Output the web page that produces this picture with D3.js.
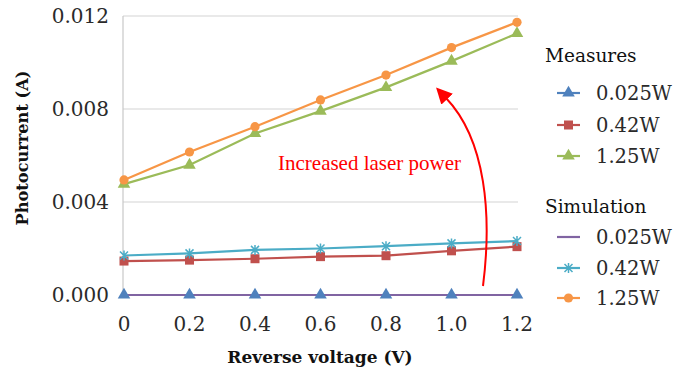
<!DOCTYPE html>
<html>
<head>
<meta charset="utf-8">
<script src="https://cdn.jsdelivr.net/npm/d3@7"></script>
<style>
  body { margin: 0; background: #fff; }
</style>
</head>
<body>
<div id="chart"></div>
<script>
// Data
const voltages = ["0", "0.2", "0.4", "0.6", "0.8", "1.0", "1.2"];
const yTicks = [0, 0.004, 0.008, 0.012];
const yTickLabels = ["0.000", "0.004", "0.008", "0.012"];

const meas025 = [0, 0, 0, 0, 0, 0, 0];
const meas042 = [0.00146, 0.0015, 0.00156, 0.00165, 0.00169, 0.0019, 0.00208];
const meas125 = [0.00477, 0.00559, 0.00695, 0.00791, 0.00893, 0.01006, 0.01125];
const sim025 = [0, 0, 0, 0, 0, 0, 0];
const sim042 = [0.0017, 0.00179, 0.00194, 0.002, 0.0021, 0.00222, 0.00232];
const sim125 = [0.00495, 0.00615, 0.00724, 0.00839, 0.00946, 0.01064, 0.01173];

const series = [
  { name: "0.025W", values: meas025, color: "#4F81BD", marker: "triangle" },
  { name: "0.42W", values: meas042, color: "#C0504D", marker: "square" },
  { name: "1.25W", values: meas125, color: "#9BBB59", marker: "triangle" },
  { name: "0.025W", values: sim025, color: "#8064A2", marker: "none" },
  { name: "0.42W", values: sim042, color: "#4BACC6", marker: "star" },
  { name: "1.25W", values: sim125, color: "#F79646", marker: "circle" }
];

const W = 675, H = 373;
const margin = { top: 16, left: 123, right: 518, bottom: 295 };
const serif = "'DejaVu Serif', serif";
const times = "'Liberation Serif', serif";

const svg = d3.select("#chart").append("svg")
    .attr("width", W)
    .attr("height", H);

const x = d3.scalePoint()
    .domain(voltages)
    .range([124, 517]);

const y = d3.scaleLinear()
    .domain([0, 0.012])
    .range([margin.bottom, margin.top]);

// Gridlines
svg.append("g")
  .selectAll("line")
  .data(yTicks.slice(1))
  .enter().append("line")
    .attr("x1", margin.left)
    .attr("x2", margin.right)
    .attr("y1", d => y(d))
    .attr("y2", d => y(d))
    .attr("stroke", "#d4d4d4")
    .attr("stroke-width", 1.2);

// Axis lines
svg.append("line")
    .attr("x1", margin.left).attr("x2", margin.left)
    .attr("y1", margin.top).attr("y2", margin.bottom)
    .attr("stroke", "#c8c8c8").attr("stroke-width", 1.2);
svg.append("line")
    .attr("x1", margin.left).attr("x2", margin.right)
    .attr("y1", margin.bottom).attr("y2", margin.bottom)
    .attr("stroke", "#c8c8c8").attr("stroke-width", 1.2);

// Y tick labels
svg.append("g")
  .selectAll("text")
  .data(yTicks)
  .enter().append("text")
    .attr("x", 109)
    .attr("y", d => y(d))
    .attr("dy", "0.36em")
    .attr("text-anchor", "end")
    .attr("font-family", serif)
    .attr("font-size", "20px")
    .attr("fill", "#2a2a2a")
    .text((d, i) => yTickLabels[i]);

// X tick labels
svg.append("g")
  .selectAll("text")
  .data(voltages)
  .enter().append("text")
    .attr("x", d => x(d))
    .attr("y", 324)
    .attr("dy", "0.36em")
    .attr("text-anchor", "middle")
    .attr("font-family", serif)
    .attr("font-size", "20px")
    .attr("fill", "#2a2a2a")
    .text(d => d);

// Axis titles
svg.append("text")
    .attr("x", 320)
    .attr("y", 357)
    .attr("dy", "0.36em")
    .attr("text-anchor", "middle")
    .attr("font-family", serif)
    .attr("font-size", "17px")
    .attr("font-weight", "bold")
    .attr("fill", "#111")
    .text("Reverse voltage (V)");

svg.append("text")
    .attr("transform", "translate(22,148) rotate(-90)")
    .attr("dy", "0.36em")
    .attr("text-anchor", "middle")
    .attr("font-family", serif)
    .attr("font-size", "16.2px")
    .attr("font-weight", "bold")
    .attr("fill", "#111")
    .text("Photocurrent (A)");

// Lines
const line = d3.line()
    .x((d, i) => x(voltages[i]))
    .y(d => y(d));

svg.append("g")
  .selectAll("path")
  .data(series)
  .enter().append("path")
    .attr("fill", "none")
    .attr("stroke", d => d.color)
    .attr("stroke-width", 2.2)
    .attr("d", d => line(d.values));

function drawMarker(g, type, color) {
  if (type === "triangle") {
    g.append("path").attr("d", d3.symbol(d3.symbolTriangle, 68)()).attr("fill", color);
  } else if (type === "square") {
    g.append("rect").attr("x", -4.5).attr("y", -4.5).attr("width", 9).attr("height", 9).attr("fill", color);
  } else if (type === "circle") {
    g.append("circle").attr("r", 4.6).attr("fill", color);
  } else if (type === "star") {
    g.append("path")
        .attr("d", "M-4,-4L4,4M-4,4L4,-4M0,-5L0,5")
        .attr("stroke", color).attr("stroke-width", 1.5).attr("fill", "none");
  }
}

// Markers
series.forEach(s => {
  if (s.marker === "none") return;
  s.values.forEach((v, i) => {
    const g = svg.append("g").attr("transform", "translate(" + x(voltages[i]) + "," + y(v) + ")");
    drawMarker(g, s.marker, s.color);
  });
});

// Legend
const legendTitles = [{ text: "Measures", y: 55 }, { text: "Simulation", y: 206 }];
svg.append("g")
  .selectAll("text")
  .data(legendTitles)
  .enter().append("text")
    .attr("x", 545)
    .attr("y", d => d.y)
    .attr("dy", "0.36em")
    .attr("font-family", serif)
    .attr("font-size", "18.5px")
    .attr("fill", "#111")
    .text(d => d.text);

const legendY = [93, 125, 156, 237, 268, 298];
series.forEach((s, i) => {
  const g = svg.append("g").attr("transform", "translate(0," + legendY[i] + ")");
  g.append("line")
      .attr("x1", 557).attr("x2", 580)
      .attr("stroke", s.color).attr("stroke-width", 2.2);
  const m = g.append("g").attr("transform", "translate(568.5,0)");
  drawMarker(m, s.marker, s.color);
  g.append("text")
      .attr("x", 596)
      .attr("dy", "0.36em")
      .attr("font-family", serif)
      .attr("font-size", "19.5px")
      .attr("fill", "#2a2a2a")
      .text(s.name);
});

// Annotation
svg.append("defs").append("marker")
    .attr("id", "arrow")
    .attr("viewBox", "0 0 10 10")
    .attr("refX", 1).attr("refY", 5)
    .attr("markerWidth", 8).attr("markerHeight", 8)
    .attr("orient", "auto")
  .append("path")
    .attr("d", "M0,0L10,5L0,10Z")
    .attr("fill", "red");

svg.append("path")
    .attr("d", "M483,286 C492,215 486,140 446,98")
    .attr("fill", "none")
    .attr("stroke", "red")
    .attr("stroke-width", 2)
    .attr("marker-end", "url(#arrow)");

svg.append("text")
    .attr("x", 278)
    .attr("y", 163)
    .attr("dy", "0.35em")
    .attr("font-family", times)
    .attr("font-size", "21px")
    .attr("fill", "red")
    .text("Increased laser power");
</script>
</body>
</html>
